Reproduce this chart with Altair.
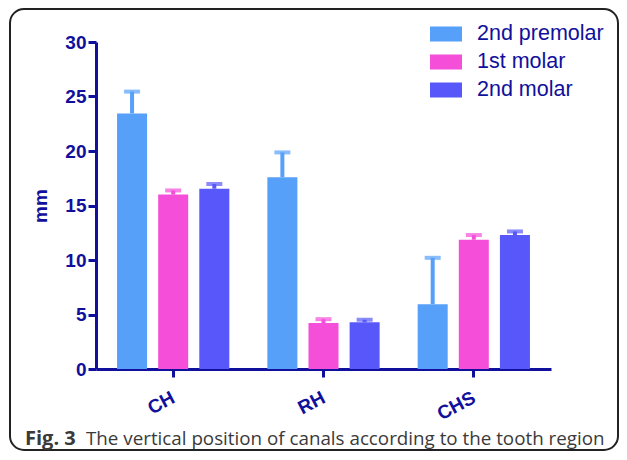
import altair as alt
import pandas as pd

regions = ["CH", "RH", "CHS"]
teeth = ["2nd premolar", "1st molar", "2nd molar"]
colors = ["#56A0FA", "#F54FD9", "#5858FA"]
mean_premolar2 = [23.45, 17.6, 5.95]
mean_molar1 = [16.0, 4.22, 11.86]
mean_molar2 = [16.54, 4.28, 12.29]
err_premolar2 = [2.0, 2.27, 4.25]
err_molar1 = [0.38, 0.35, 0.43]
err_molar2 = [0.43, 0.24, 0.33]
caption_bold = "Fig. 3"
caption_text = "The vertical position of canals according to the tooth region"

NAVY = "#10109C"

rows = []
for t, means, errs in zip(teeth, [mean_premolar2, mean_molar1, mean_molar2],
                          [err_premolar2, err_molar1, err_molar2]):
    for r, m, e in zip(regions, means, errs):
        rows.append({"region": r, "tooth": t, "mean": m, "upper": m + e})
df = pd.DataFrame(rows)

x_enc = alt.X("region:N", sort=regions,
              scale=alt.Scale(paddingInner=0.253, paddingOuter=0.14),
              axis=alt.Axis(title=None, labelAngle=332, labelAlign="right",
                            labelBaseline="top", labelPadding=11,
                            labelOffset=-4,
                            labelFontSize=19, labelFontWeight="bold"))
xo_enc = alt.XOffset("tooth:N", sort=teeth,
                     scale=alt.Scale(paddingInner=0.27, paddingOuter=0))
color_scale = alt.Scale(domain=teeth, range=colors)

base = alt.Chart(df)

bars = base.mark_bar().encode(
    x=x_enc,
    xOffset=xo_enc,
    y=alt.Y("mean:Q", scale=alt.Scale(domain=[0, 30]),
            axis=alt.Axis(title="mm", values=[0, 5, 10, 15, 20, 25, 30],
                          labelFontSize=19, labelFontWeight="bold",
                          titleFontSize=19, titleFontWeight="bold",
                          titlePadding=14)),
    color=alt.Color("tooth:N", sort=teeth, scale=color_scale,
                    legend=alt.Legend(title=None, orient="none",
                                      legendX=334, legendY=-22,
                                      symbolType="M-1,-0.47H1V0.47H-1Z",
                                      symbolSize=1024, symbolStrokeWidth=0,
                                      labelFontSize=21.5, labelColor=NAVY,
                                      labelFont="Liberation Sans",
                                      labelOffset=15, clipHeight=28,
                                      rowPadding=0)),
)

stems = base.mark_rule(strokeWidth=4).encode(
    x=x_enc, xOffset=xo_enc,
    y="mean:Q", y2="upper:Q",
    color=alt.Color("tooth:N", sort=teeth, scale=color_scale, legend=None),
)

caps = base.mark_tick(size=16, thickness=4).encode(
    x=x_enc, xOffset=xo_enc,
    y="upper:Q",
    color=alt.Color("tooth:N", sort=teeth, scale=color_scale, legend=None),
)

frame_df = pd.DataFrame({"k": [0]})
frame = alt.Chart(frame_df).mark_rect(
    fillOpacity=0, stroke="#222222", strokeWidth=2, cornerRadius=14
).encode(x=alt.value(-86), x2=alt.value(522), y=alt.value(-33), y2=alt.value(408))

cap_df = pd.DataFrame({"bold": [caption_bold], "text": [caption_text]})
cap1 = alt.Chart(cap_df).mark_text(
    align="left", baseline="alphabetic", font="Open Sans", fontSize=20,
    fontWeight="bold", color="#3a3a3a"
).encode(text="bold:N", x=alt.value(-71), y=alt.value(403))
cap2 = alt.Chart(cap_df).mark_text(
    align="left", baseline="alphabetic", font="Open Sans", fontSize=18.8,
    color="#3a3a3a"
).encode(text="text:N", x=alt.value(-10), y=alt.value(403))

chart = alt.layer(frame, bars, stems, caps, cap1, cap2).properties(
    width=455, height=327,
    autosize=alt.AutoSizeParams(type="none"),
    padding={"left": 88, "top": 34, "right": 68, "bottom": 83},
).configure_view(stroke=None).configure_axis(
    domainColor=NAVY, domainWidth=3, tickColor=NAVY, tickWidth=3, tickSize=8,
    labelColor=NAVY, titleColor=NAVY, grid=False, labelFont="Liberation Sans",
    titleFont="Liberation Sans", labelPadding=2
)

chart.save("out.html", embed_options={"renderer": "svg", "actions": False})
